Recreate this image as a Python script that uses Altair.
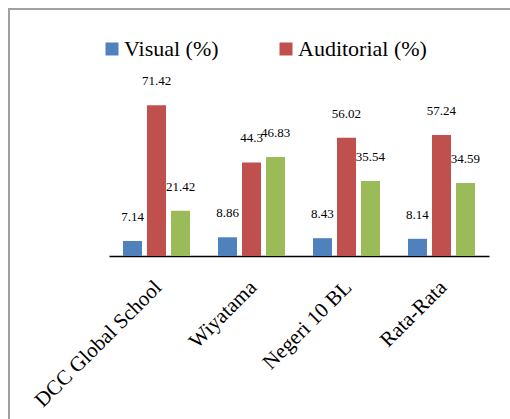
import altair as alt
import pandas as pd

categories = ["DCC Global School", "Wiyatama", "Negeri 10 BL", "Rata-Rata"]
series = ["Visual (%)", "Auditorial (%)", "Kinestetik (%)"]
visual = [7.14, 8.86, 8.43, 8.14]
auditorial = [71.42, 44.3, 56.02, 57.24]
kinestetik = [21.42, 46.83, 35.54, 34.59]
colors = ["#4F81BD", "#C0504D", "#9BBB59"]

rows = []
for s, vals in zip(series, [visual, auditorial, kinestetik]):
    for c, v in zip(categories, vals):
        rows.append({"Sekolah": c, "Gaya": s, "Nilai": v, "Label": f"{v:g}"})
df = pd.DataFrame(rows)

SERIF = "Liberation Serif"

x = alt.X("Sekolah:N", sort=categories, title=None,
          scale=alt.Scale(paddingInner=0.2947, paddingOuter=0.1474),
          axis=alt.Axis(labelAngle=-45, labelAlign="right", labelBaseline="middle",
                        labelFont=SERIF, labelFontSize=21, labelColor="black",
                        labelPadding=28, labelOffset=2, ticks=False,
                        domainColor="black", domainWidth=1.5, labelLimit=400))
xo = alt.XOffset("Gaya:N", sort=series,
                 scale=alt.Scale(paddingInner=0.2083, paddingOuter=0))
y = alt.Y("Nilai:Q", scale=alt.Scale(domain=[0, 80]), axis=None)

base = alt.Chart(df)
bars = base.mark_bar().encode(
    x=x, xOffset=xo, y=y,
    color=alt.Color("Gaya:N", sort=series,
                    scale=alt.Scale(domain=series, range=colors),
                    legend=alt.Legend(orient="none", legendX=-8, legendY=-49,
                                      padding=0,
                                      direction="horizontal", title=None,
                                      values=series[:2],
                                      symbolType="square", symbolSize=169,
                                      symbolStrokeWidth=0, symbolOpacity=1,
                                      labelFont=SERIF, labelFontSize=22,
                                      labelColor="black", labelOffset=1,
                                      columnPadding=56, labelLimit=300)),
)
labels = base.mark_text(font=SERIF, fontSize=13, color="black",
                        baseline="middle", dy=-24).encode(
    x=x, xOffset=xo, y=y, text="Label:N")

border = alt.Chart(alt.Data(values=[{}])).mark_rect(
    fill=None, stroke="#a0a0a0", strokeWidth=2).encode(
    x=alt.value(-100), x2=alt.value(450),
    y=alt.value(-78), y2=alt.value(400))

chart = alt.layer(border, bars, labels).properties(
    width=380, height=169,
    autosize=alt.AutoSizeParams(type="none"),
    padding={"left": 109, "top": 87, "right": 21, "bottom": 163},
    background="white",
).configure_view(stroke=None)

chart.save("out.html", embed_options={"renderer": "svg", "actions": False})
